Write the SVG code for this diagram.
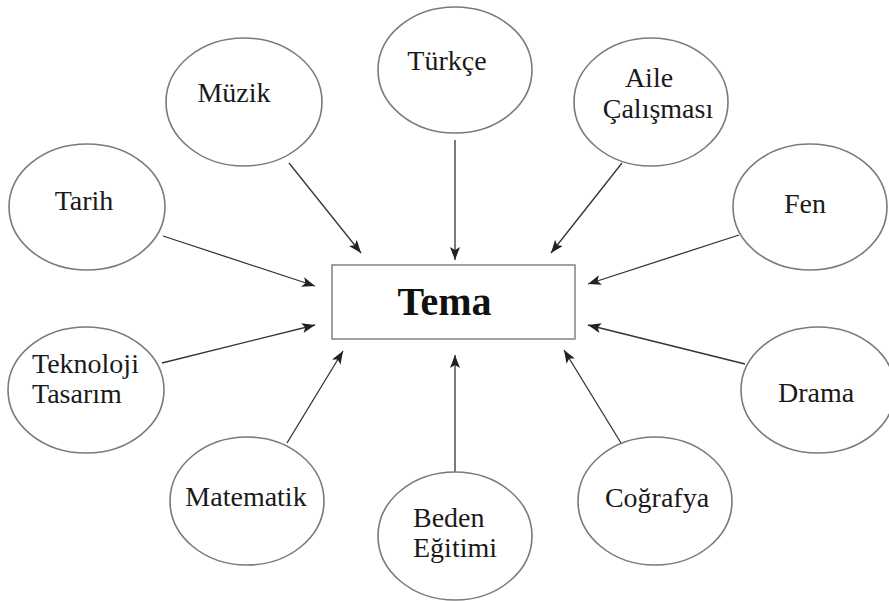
<svg xmlns="http://www.w3.org/2000/svg" width="889" height="601" viewBox="0 0 889 601">
<defs>
<marker id="ah" markerWidth="14" markerHeight="10" refX="13" refY="5" orient="auto" markerUnits="userSpaceOnUse">
<path d="M0,0 L13,5 L0,10 L3,5 Z" fill="#222"/>
</marker>
</defs>
<style>
.n ellipse{fill:#fff;stroke:#7a7a7a;stroke-width:1.6}
.n text{font-family:"Liberation Serif","Times New Roman",serif;font-size:28px;fill:#1a1a1a;text-anchor:middle}
.n text.l{text-anchor:start}
#connectors line{stroke:#333;stroke-width:1.3;marker-end:url(#ah)}
</style>
<rect width="889" height="601" fill="#fff"/>
<g id="connectors">
<line x1="289" y1="163" x2="361" y2="253"/>
<line x1="163" y1="236" x2="315" y2="286"/>
<line x1="455" y1="140" x2="455" y2="260"/>
<line x1="622" y1="163" x2="551" y2="253"/>
<line x1="739" y1="235" x2="588" y2="284"/>
<line x1="162" y1="363" x2="315" y2="325"/>
<line x1="287" y1="443" x2="343" y2="351"/>
<line x1="455" y1="472" x2="455" y2="355"/>
<line x1="621" y1="443" x2="564" y2="350"/>
<line x1="745" y1="364" x2="588" y2="325"/>
</g>
<g id="tema">
<rect x="332" y="265" width="243" height="74" fill="#fff" stroke="#8a8a8a" stroke-width="1.6"/>
<text x="444.5" y="315" font-family="Liberation Serif,'Times New Roman',serif" font-size="40" font-weight="bold" text-anchor="middle" fill="#111">Tema</text>
</g>
<g id="muzik" class="n"><ellipse cx="244" cy="102" rx="78" ry="64"/><text x="234" y="102">Müzik</text></g>
<g id="tarih" class="n"><ellipse cx="87" cy="207" rx="78" ry="63"/><text x="84" y="210">Tarih</text></g>
<g id="turkce" class="n"><ellipse cx="455" cy="70" rx="77" ry="63"/><text x="447" y="70">Türkçe</text></g>
<g id="aile" class="n"><ellipse cx="651" cy="102" rx="77" ry="64"/><text x="649" y="87">Aile</text><text x="658" y="118">Çalışması</text></g>
<g id="fen" class="n"><ellipse cx="810" cy="207" rx="77" ry="63"/><text x="805" y="213">Fen</text></g>
<g id="teknoloji" class="n"><ellipse cx="86" cy="390" rx="78" ry="63"/><text class="l" x="32" y="373">Teknoloji</text><text class="l" x="32" y="403">Tasarım</text></g>
<g id="matematik" class="n"><ellipse cx="247" cy="501" rx="77" ry="64"/><text x="246" y="506">Matematik</text></g>
<g id="beden" class="n"><ellipse cx="455" cy="536" rx="77" ry="64"/><text class="l" x="413" y="527">Beden</text><text class="l" x="413" y="557">Eğitimi</text></g>
<g id="cografya" class="n"><ellipse cx="655" cy="501" rx="77" ry="64"/><text x="657" y="507">Coğrafya</text></g>
<g id="drama" class="n"><ellipse cx="818" cy="390" rx="77" ry="63"/><text x="816" y="402">Drama</text></g>
</svg>
